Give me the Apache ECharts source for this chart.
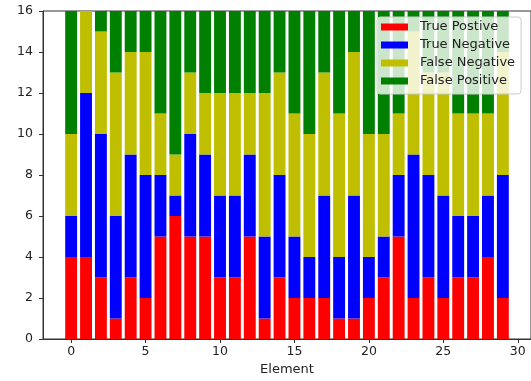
<!DOCTYPE html>
<html>
<head>
<meta charset="utf-8">
<script src="https://cdn.jsdelivr.net/npm/echarts@6/dist/echarts.min.js"></script>
<style>html,body{margin:0;padding:0;background:#fff}#c{width:531px;height:381px}</style>
</head>
<body>
<div id="c"></div>
<script>
var elements = [0,1,2,3,4,5,6,7,8,9,10,11,12,13,14,15,16,17,18,19,20,21,22,23,24,25,26,27,28,29];
var truePositive  = [4,4,3,1,3,2,5,6,5,5,3,3,5,1,3,2,2,2,1,1,2,3,5,2,3,2,3,3,4,2];
var trueNegative  = [2,8,7,5,6,6,3,1,5,4,4,4,4,4,5,3,2,5,3,6,2,2,3,7,5,5,3,3,3,6];
var falseNegative = [4,4,5,7,5,6,3,2,3,3,5,5,3,7,5,6,6,6,7,7,6,5,3,6,5,6,5,5,4,6];
var falsePositive = [6,0,1,3,2,2,5,7,3,4,4,4,4,4,3,5,6,3,5,2,6,6,5,1,3,3,5,5,5,2];
var seriesNames = ['True Postive','True Negative','False Negative','False Positive'];
var xTicks = [0,5,10,15,20,25,30];
var yTicks = [0,2,4,6,8,10,12,14,16];

var colors = ['#ff0000','#0000ff','#bfbf00','#008000'];
var values = [truePositive, trueNegative, falseNegative, falsePositive];
var font = 'DejaVu Sans';

// value first (stacked dimension), element second (base dimension)
function pairs(arr){ return elements.map(function(e,i){ return [arr[i], e]; }); }

var chart = echarts.init(document.getElementById('c'), null, {renderer:'canvas'});
var series = seriesNames.map(function(n,k){
  return {
    name: n, type: 'bar', stack: 'total', data: pairs(values[k]),
    encode: {x: 1, y: 0},
    barWidth: 11.9, itemStyle: {color: colors[k]}, emphasis: {disabled: true}
  };
});
chart.setOption({
  animation: false,
  backgroundColor: '#fff',
  grid: {left: 43, right: 0, top: 11, bottom: 41, show: true, borderColor: '#333', borderWidth: 1, backgroundColor: 'transparent'},
  legend: {
    orient: 'vertical', left: 377, top: 17,
    padding: [3, 6, 6, 4],
    itemWidth: 34, itemHeight: 7, itemGap: 4,
    icon: 'path://M0,0H27V7H0Z M34,0L34,7',
    backgroundColor: 'rgba(255,255,255,0.8)', borderColor: '#cccccc', borderWidth: 1, borderRadius: 3,
    textStyle: {fontFamily: font, fontSize: 13, color: '#222', lineHeight: 14},
    data: seriesNames
  },
  xAxis: {
    type: 'value', min: -1.89, max: 30.89,
    name: 'Element', nameLocation: 'middle', nameGap: 24,
    nameTextStyle: {fontFamily: font, fontSize: 13, color: '#222'},
    axisLine: {show: true, onZero: false, lineStyle: {color: '#333', width: 1}},
    axisTick: {show: true, length: 4, customValues: xTicks, lineStyle: {color: '#333'}},
    axisLabel: {customValues: xTicks, fontFamily: font, fontSize: 12.5, color: '#222', margin: 6},
    splitLine: {show: false}
  },
  yAxis: {
    type: 'value', min: 0, max: 16, interval: 2,
    axisLine: {show: true, onZero: false, lineStyle: {color: '#333', width: 1}},
    axisTick: {show: true, length: 4, customValues: yTicks, lineStyle: {color: '#333'}},
    axisLabel: {customValues: yTicks, fontFamily: font, fontSize: 12.5, color: '#222', margin: 10},
    splitLine: {show: false}
  },
  series: series
});
</script>
</body>
</html>
